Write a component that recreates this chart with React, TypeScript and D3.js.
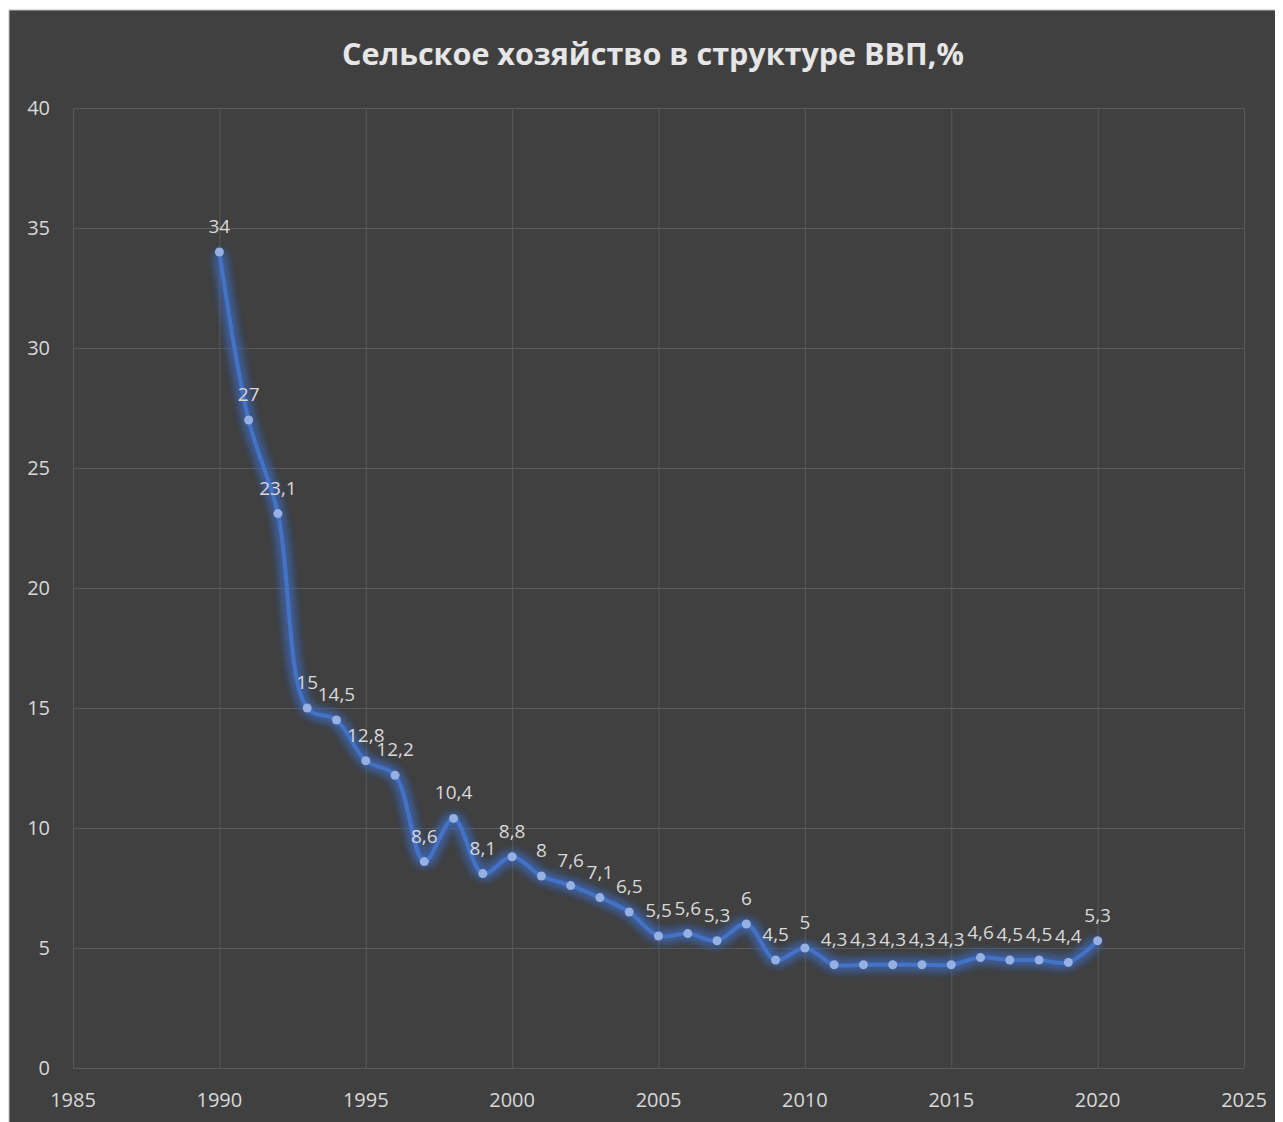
import React, { useEffect, useRef } from "react";
import * as d3 from "d3";

const years = [1990,1991,1992,1993,1994,1995,1996,1997,1998,1999,2000,2001,2002,2003,2004,2005,2006,2007,2008,2009,2010,2011,2012,2013,2014,2015,2016,2017,2018,2019,2020];
const values = [34,27,23.1,15,14.5,12.8,12.2,8.6,10.4,8.1,8.8,8,7.6,7.1,6.5,5.5,5.6,5.3,6,4.5,5,4.3,4.3,4.3,4.3,4.3,4.6,4.5,4.5,4.4,5.3];
const xTicks = [1985,1990,1995,2000,2005,2010,2015,2020,2025];
const yTicks = [0,5,10,15,20,25,30,35,40];
const title = "Сельское хозяйство в структуре ВВП,%";

const W = 1275, H = 1114;

export default function App() {
  const ref = useRef<SVGSVGElement>(null);
  useEffect(() => {
    const svg = d3.select(ref.current);
    svg.selectAll("*").remove();
    const font = "'Open Sans', 'Noto Sans', sans-serif";
    const defs = svg.append("defs");
    const f = defs.append("filter").attr("id", "glow").attr("x", "-20%").attr("y", "-20%").attr("width", "140%").attr("height", "140%");
    f.append("feGaussianBlur").attr("in", "SourceGraphic").attr("stdDeviation", 5).attr("result", "b");
    const fm = f.append("feMerge");
    fm.append("feMergeNode").attr("in", "b");
    fm.append("feMergeNode").attr("in", "b");

    svg.append("rect").attr("x", 1).attr("y", 2).attr("width", W + 10).attr("height", H + 10)
      .attr("fill", "#404040").attr("stroke", "#bfbfbf").attr("stroke-width", 1);

    const x = d3.scaleLinear().domain([1985, 2025]).range([65, 1236]);
    const y = d3.scaleLinear().domain([0, 40]).range([1060, 100]);

    const g = svg.append("g");
    g.selectAll(".vg").data(xTicks).enter().append("line")
      .attr("x1", d => x(d) + 0.5).attr("x2", d => x(d) + 0.5)
      .attr("y1", y(40)).attr("y2", y(0))
      .attr("stroke", "#595959").attr("stroke-width", 1);
    g.selectAll(".hg").data(yTicks).enter().append("line")
      .attr("x1", x(1985)).attr("x2", x(2025))
      .attr("y1", d => y(d) + 0.5).attr("y2", d => y(d) + 0.5)
      .attr("stroke", "#595959").attr("stroke-width", 1);

    g.selectAll(".yl").data(yTicks).enter().append("text")
      .attr("x", 42).attr("y", d => y(d)).attr("dy", "0.35em")
      .attr("text-anchor", "end").attr("fill", "#d9d9d9")
      .attr("font-family", font).attr("font-size", 20).text(d => d);
    g.selectAll(".xl").data(xTicks).enter().append("text")
      .attr("x", d => x(d)).attr("y", 1099)
      .attr("text-anchor", "middle").attr("fill", "#d9d9d9")
      .attr("font-family", font).attr("font-size", 20).text(d => d);

    svg.append("text").attr("x", 645).attr("y", 57).attr("text-anchor", "middle")
      .attr("fill", "#e6e6e6").attr("font-family", font).attr("font-weight", "bold")
      .attr("font-size", 30.5).text(title);

    const pts = years.map((yr, i) => [yr, values[i]] as [number, number]);
    const line = d3.line<[number, number]>().x(d => x(d[0])).y(d => y(d[1])).curve(d3.curveCatmullRom.alpha(0.5));
    svg.append("path").attr("d", line(pts)!).attr("fill", "none")
      .attr("stroke", "#3d6fd6").attr("stroke-width", 10).attr("stroke-opacity", 0.5).attr("filter", "url(#glow)");
    svg.append("path").attr("d", line(pts)!).attr("fill", "none")
      .attr("stroke", "#4472c4").attr("stroke-width", 4).attr("stroke-linejoin", "round");
    svg.selectAll(".pt").data(pts).enter().append("circle")
      .attr("cx", d => x(d[0])).attr("cy", d => y(d[1])).attr("r", 4.5)
      .attr("fill", "#95b0e3");
    svg.selectAll(".lbl").data(pts).enter().append("text")
      .attr("x", d => x(d[0])).attr("y", d => y(d[1]) - 19)
      .attr("text-anchor", "middle").attr("fill", "#d9d9d9")
      .attr("font-family", font).attr("font-size", 19)
      .text(d => String(d[1]).replace(".", ","));
  }, []);
  return <svg ref={ref} width={W} height={H} style={{ display: "block" }} />;
}
